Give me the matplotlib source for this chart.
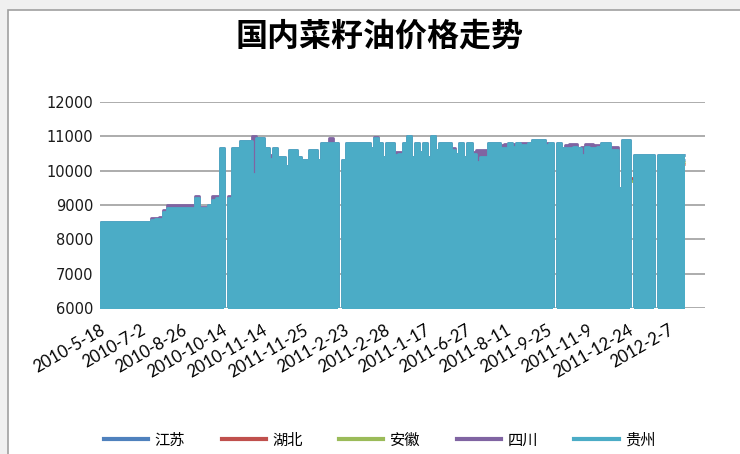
import numpy as np
import matplotlib.pyplot as plt
from matplotlib.patches import Rectangle
from matplotlib.lines import Line2D

plt.rcParams['font.family'] = ['Noto Sans CJK SC', 'DejaVu Sans']

title = '国内菜籽油价格走势'
names = ['江苏', '湖北', '安徽', '四川', '贵州']
colors = ['#4F81BD', '#C0504D', '#9BBB59', '#8064A2', '#4BACC6']
tick_labels = ['2010-5-18', '2010-7-2', '2010-8-26', '2010-10-14', '2010-11-14',
               '2011-11-25', '2011-2-23', '2011-2-28', '2011-1-17', '2011-6-27',
               '2011-8-11', '2011-9-25', '2011-11-9', '2011-12-24', '2012-2-7']
nan = np.nan

# 0 = no price that day (line drops to the axis), nan = no category data
jiangsu = [
    8300, 8400, 8400, 8400, 8400, 8400, 8400, 8400, 8400, 8400,
    8400, 8400, 8400, 8450, 8450, 8500, 8700, 8800, 8800, 8800,
    8800, 8800, 8800, 8800, 9000, 8800, 8800, 8900, 9000, 9000,
    10400, 0, 9000, 10400, 10400, 10600, 10600, 10600, 9700, 10700,
    10700, 10400, 10200, 10400, 10200, 10200, 10000, 10400, 10400, 10200,
    10100, 10100, 10400, 10400, 10100, 10600, 10600, 10600, 10600, 0,
    10100, 10600, 10600, 10600, 10600, 10600, 10600, 10400, 10700, 10600,
    10200, 10600, 10600, 10300, 10300, 10600, 10800, 10200, 10600, 10400,
    10600, 10200, 10800, 10400, 10600, 10600, 10600, 10400, 10300, 10600,
    10200, 10600, 10300, 10100, 10200, 10200, 10600, 10600, 10600, 10500,
    10500, 10600, 10500, 10600, 10600, 10600, 10600, 10700, 10700, 10700,
    10600, 10600, 0, 10600, 10500, 10500, 10500, 10500, 10500, 10300,
    10500, 10500, 10500, 10500, 10600, 10600, 10400, 10400, 9400, 10700,
    10700, 9750, 10300, 10300, 10300, 10300, 10300, 0, 10300, 10300,
    10300, 10300, 10300, 10300, 10300, nan, nan, nan, nan, nan]

hubei = [
    8200, 8300, 8300, 8300, 8300, 8300, 8300, 8300, 8300, 8300,
    8300, 8300, 8300, 8400, 8400, 8400, 8600, 8700, 8700, 8700,
    8700, 8700, 8700, 8700, 8900, 8700, 8700, 8800, 8900, 8900,
    10300, 0, 8900, 10300, 10300, 10500, 10500, 10500, 9600, 10600,
    10600, 10300, 10100, 10300, 10100, 10100, 9900, 10300, 10300, 10100,
    10000, 10000, 10300, 10300, 10000, 10500, 10500, 10500, 10500, 0,
    10000, 10500, 10500, 10500, 10500, 10500, 10500, 10300, 10600, 10500,
    10100, 10500, 10500, 10200, 10200, 10500, 10700, 10100, 10500, 10300,
    10500, 10100, 10700, 10300, 10500, 10500, 10500, 10300, 10200, 10500,
    10100, 10500, 10200, 10000, 10100, 10100, 10500, 10500, 10500, 10400,
    10400, 10500, 10400, 10500, 10500, 10500, 10500, 10600, 10600, 10600,
    10500, 10500, 0, 10500, 10400, 10400, 10400, 10400, 10400, 10200,
    10400, 10400, 10400, 10400, 10500, 10500, 10300, 10300, 9300, 10600,
    10600, 9800, 10200, 10200, 10200, 10200, 10200, 0, 10200, 10200,
    10200, 10200, 10200, 10200, 10200, nan, nan, nan, nan, nan]

anhui = [
    8300, 8350, 8350, 8350, 8350, 8350, 8350, 8350, 8350, 8350,
    8350, 8350, 8350, 8400, 8400, 8450, 8650, 8750, 8750, 8750,
    8750, 8750, 8750, 8750, 8950, 8750, 8750, 8850, 8950, 8950,
    10350, 0, 8950, 10350, 10350, 10550, 10550, 10550, 9650, 10650,
    10650, 10350, 10150, 10350, 10150, 10150, 9950, 10350, 10350, 10150,
    10050, 10050, 10350, 10350, 10050, 10550, 10550, 10550, 10550, 0,
    10050, 10550, 10550, 10550, 10550, 10550, 10550, 10350, 10650, 10550,
    10150, 10550, 10550, 10250, 10250, 10550, 10750, 10150, 10550, 10350,
    10550, 10150, 10750, 10350, 10550, 10550, 10550, 10350, 10250, 10550,
    10150, 10550, 10250, 10050, 10150, 10150, 10550, 10550, 10550, 10450,
    10450, 10550, 10450, 10550, 10550, 10550, 10550, 10650, 10650, 10650,
    10550, 10550, 0, 10550, 10450, 10450, 10450, 10450, 10450, 10250,
    10450, 10450, 10450, 10450, 10550, 10550, 10350, 10350, 9350, 10650,
    10650, 9700, 10250, 10250, 10250, 10250, 10250, 0, 10250, 10250,
    10250, 10250, 10250, 10250, 10250, nan, nan, nan, nan, nan]

sichuan = [
    8500, 8500, 8500, 8500, 8500, 8500, 8500, 8500, 8500, 8500,
    8500, 8500, 8500, 8620, 8620, 8650, 8850, 9000, 9000, 9000,
    9000, 9000, 9000, 9000, 9250, 8950, 8950, 9000, 9250, 9250,
    10650, 0, 9250, 10650, 10650, 10850, 10850, 10850, 11000, 10950,
    10950, 10650, 10450, 10650, 10400, 10400, 10150, 10600, 10600, 10400,
    10300, 10300, 10600, 10600, 10300, 10800, 10800, 10950, 10800, 0,
    10300, 10800, 10800, 10800, 10800, 10800, 10800, 10650, 10980, 10800,
    10400, 10800, 10800, 10550, 10550, 10800, 11000, 10400, 10800, 10550,
    10800, 10400, 11000, 10600, 10800, 10800, 10800, 10650, 10500, 10800,
    10400, 10800, 10550, 10600, 10600, 10600, 10800, 10800, 10800, 10750,
    10780, 10800, 10780, 10800, 10800, 10800, 10800, 10900, 10900, 10900,
    10800, 10800, 0, 10800, 10650, 10750, 10780, 10780, 10650, 10700,
    10780, 10780, 10750, 10750, 10800, 10800, 10700, 10700, 9500, 10900,
    10900, 0, 10450, 10450, 10450, 10450, 10450, 0, 10450, 10450,
    10450, 10450, 10450, 10450, 10450, nan, nan, nan, nan, nan]

guizhou = [
    8500, 8500, 8500, 8500, 8500, 8500, 8500, 8500, 8500, 8500,
    8500, 8500, 8500, 8550, 8580, 8600, 8800, 8900, 8900, 8900,
    8900, 8900, 8900, 8900, 9200, 8900, 8900, 9000, 9150, 9200,
    10650, 0, 9200, 10650, 10650, 10850, 10850, 10850, 9900, 10950,
    10950, 10650, 10350, 10650, 10400, 10400, 10150, 10600, 10600, 10400,
    10300, 10300, 10600, 10600, 10300, 10800, 10800, 10800, 10800, 0,
    10300, 10800, 10800, 10800, 10800, 10800, 10800, 10650, 10950, 10800,
    10400, 10800, 10800, 10450, 10500, 10800, 11000, 10400, 10800, 10550,
    10800, 10400, 11000, 10600, 10800, 10800, 10800, 10600, 10500, 10800,
    10400, 10800, 10500, 10250, 10400, 10400, 10800, 10800, 10800, 10650,
    10650, 10800, 10700, 10800, 10750, 10750, 10800, 10900, 10900, 10900,
    10750, 10800, 0, 10800, 10650, 10650, 10650, 10700, 10650, 10450,
    10700, 10650, 10650, 10700, 10800, 10800, 10600, 10600, 9500, 10900,
    10900, 0, 10450, 10450, 10450, 10450, 10450, 0, 10450, 10450,
    10450, 10450, 10450, 10450, 10450, nan, nan, nan, nan, nan]

data = [jiangsu, hubei, anhui, sichuan, guizhou]
x = np.arange(len(guizhou))

fig = plt.figure(figsize=(7.4, 4.54), dpi=100)
fig.patch.set_facecolor('#F0F0F0')
fig.patches.append(Rectangle((8 / 740, -0.1), 1.0, 1.1 - 10 / 454,
                             transform=fig.transFigure, facecolor='white',
                             edgecolor='#A0A0A0', lw=1.2, zorder=-5))

ax = fig.add_axes([100 / 740, 1 - 308 / 454, 605 / 740, 206 / 454])
ax.set_facecolor('none')

for k, (name, vals, c) in enumerate(zip(names, data, colors)):
    vals = np.array(vals, dtype=float)
    ok = np.isfinite(vals)
    xs, ys = x[ok], vals[ok]
    z = 2 + 2 * k
    # days where the price falls to zero are so dense the lines fill solid
    if name in ('四川', '贵州'):
        ax.fill_between(xs, 0, ys, step='mid', color=c, lw=0, zorder=z)
    ax.plot(xs, ys, drawstyle='steps-mid', color=c, lw=2, zorder=z + 1,
            solid_capstyle='butt')

ax.set_xlim(0, len(x) - 1)
ax.set_ylim(6000, 12000)
ax.set_yticks(range(6000, 12001, 1000))
ax.grid(axis='y', color='#A6A6A6', lw=1.3)
ax.set_axisbelow(True)
for s in ax.spines.values():
    s.set_visible(False)

ax.set_xticks(x[::10][:len(tick_labels)])
ax.set_xticklabels(tick_labels, rotation=30, ha='right', va='top',
                   rotation_mode='anchor', family='Lato', fontsize=12)
ax.tick_params(axis='x', length=0, pad=10)
ax.tick_params(axis='y', length=0, pad=5, labelsize=10.5)
for t in ax.get_yticklabels():
    t.set_family('DejaVu Sans')
    t.set_color('#1A1A1A')

fig.text(0.513, 1 - 37 / 454, title, ha='center', va='center',
         fontsize=23, fontweight='bold')

handles = [Line2D([], [], color=c, lw=3) for c in colors]
fig.legend(handles, names, loc='center', bbox_to_anchor=(0.513, 1 - 440 / 454),
           ncol=5, frameon=False, fontsize=11, handlelength=2.9,
           handletextpad=0.4, columnspacing=2.4)

fig.savefig('out.png', dpi=100, facecolor=fig.get_facecolor())
